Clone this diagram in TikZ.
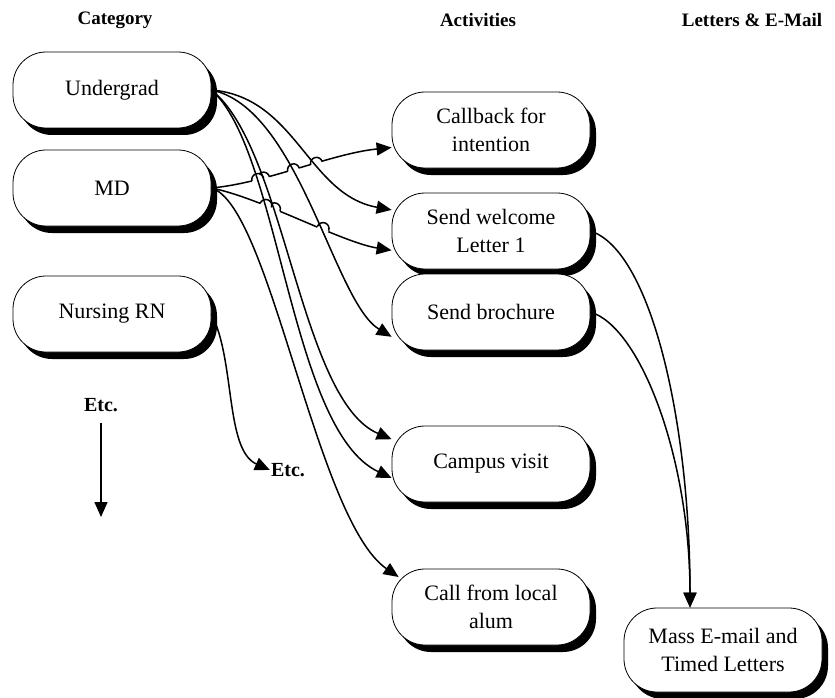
\documentclass[tikz,border=0pt]{standalone}
\usepackage{fontspec}
\setmainfont{Liberation Serif}
\usetikzlibrary{arrows.meta,shadows,intersections}
\newcommand{\HR}{6pt}
% connector paths that other connectors hop over
\newcommand{\pUW}{(ug.east) .. controls +(85,-7) and +(-84,15) .. (wl.168)}
\newcommand{\pUB}{(ug.east) .. controls +(88,-18) and +(-58,35) .. (br.194)}
\newcommand{\pUCa}{(ug.east) .. controls +(74,-58) and +(-92,39) .. (cv.166)}
\newcommand{\pUCb}{(ug.east) .. controls +(69,-60) and +(-102,48) .. (cv.188)}

\begin{document}
\begin{tikzpicture}[x=1pt, y=1pt,
    >={Triangle[length=15pt,width=13pt]},
    box/.style={draw=black, fill=white, line width=0.8pt, rounded corners=33pt,
      minimum width=198pt, minimum height=76pt, align=center,
      font=\fontsize{22}{28}\selectfont,
      drop shadow={shadow xshift=6pt, shadow yshift=-7pt, fill=black, opacity=1}},
    conn/.style={draw=black, line width=1.5pt},
    hdr/.style={font=\fontsize{19}{23}\selectfont\bfseries},
    tag/.style={font=\fontsize{20}{23}\selectfont\bfseries, inner sep=1pt},
  ]
  \useasboundingbox (0,0) rectangle (835,-698);

  %% ================= column headings =================
  \node[hdr] (hcat) at (115,-20) {Category};
  \node[hdr] (hact) at (478,-20) {Activities};
  \node[hdr] (hlet) at (752,-20) {Letters \& E-Mail};

  %% ================= boxes =================
  \node[box] (ug) at (112,-90)  {Undergrad};
  \node[box] (md) at (112,-188) {MD};
  \node[box] (rn) at (112,-314) {Nursing RN};

  \node[box] (cb) at (491,-130) {Callback for\\intention};
  \node[box] (wl) at (491,-231) {Send welcome\\Letter 1};
  \node[box] (br) at (491,-312) {Send brochure};
  \node[box] (cv) at (491,-464) {Campus visit};
  \node[box] (ca) at (491,-607) {Call from local\\alum};

  \node[box, minimum height=84pt] (me) at (723,-650) {Mass E-mail and\\Timed Letters};

  \node[tag] (etca) at (101,-405) {Etc.};
  \node[tag] (etcb) at (288,-470) {Etc.};
  \coordinate (etcend) at (101,-517);
  \coordinate (caend) at ([xshift=7pt,yshift=30pt]ca.west);
  \coordinate (meend) at ([xshift=-33pt]me.north);

  %% ================= connectors =================
  \path[name path=uw] \pUW;
  \path[name path=ub] \pUB;
  \path[name path=uca] \pUCa;
  \path[name path=ucb] \pUCb;

  % the MD lines jump over the Undergrad lines
  \draw[conn, ->, name path=mc] (md.east) .. controls +(55,5) and +(-60,-6) .. (cb.190);
  \draw[conn, ->, name path=mw] (md.east) .. controls +(50,-10) and +(-50,8) .. (wl.191);

  \path[name intersections={of=mc and uw, by=h1}];
  \path[name intersections={of=mc and ub, by=h2}];
  \path[name intersections={of=mc and uca, by=h3}];
  \path[name intersections={of=mc and ucb, by=h4}];
  \path[name intersections={of=mw and ub, by=h5}];
  \path[name intersections={of=mw and uca, by=h6}];
  \path[name intersections={of=mw and ucb, by=h7}];
  \foreach \h/\a in {h1/15, h2/15, h3/15, h4/15, h5/-20, h6/-20, h7/-20} {
    \fill[white] (\h) circle (\HR);
    \draw[conn] (\h) ++({\a+180}:\HR) arc[start angle={\a+180}, end angle=\a, radius=\HR];
  }

  \draw[conn, ->] \pUW;
  \draw[conn, ->] \pUB;
  \draw[conn, ->] \pUCa;
  \draw[conn, ->] \pUCb;
  \draw[conn, ->] (md.east) .. controls +(59,-17) and +(-83,57) .. (caend);

  \draw[conn, ->] (rn.east) .. controls +(24,-46) and +(-45,20) .. (etcb.west);
  \draw[conn, ->] ([yshift=-10pt]etca.south) -- (etcend);

  \draw[conn, ->] (wl.east) .. controls +(60,-19) and +(0,188) .. (meend);
  \draw[conn, ->] (br.east) .. controls +(50,-15) and +(0,150) .. (meend);

\end{tikzpicture}
\end{document}
